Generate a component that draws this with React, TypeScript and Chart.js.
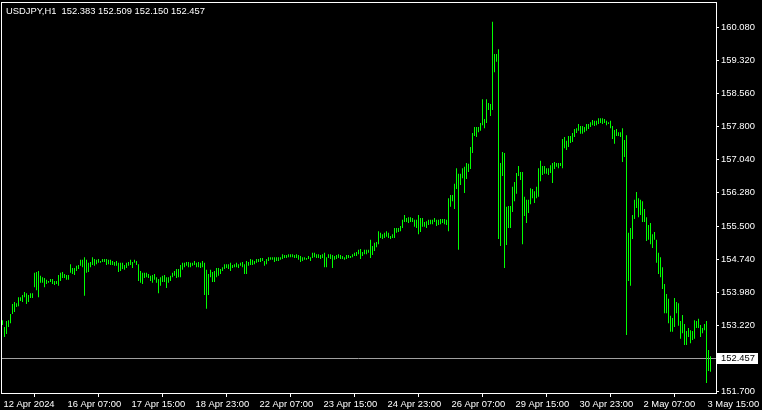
import { useEffect, useRef } from 'react';
import { Chart, registerables } from 'chart.js';

Chart.register(...registerables);

const symbolLabel = 'USDJPY,H1';
// open, high, low, close of the last bar
const lastOHLC = [152.383, 152.509, 152.15, 152.457];

// hourly bars, first bar 12 Apr 2024 23:00
const highs = [
  153.34, 153.18, 153.32, 153.34, 153.48, 153.71, 153.76, 153.73, 153.87, 153.87,
  153.92, 153.99, 153.96, 153.92, 153.96, 153.96, 154.43, 154.45, 154.47, 154.36,
  154.33, 154.31, 154.27, 154.24, 154.29, 154.29, 154.24, 154.24, 154.38, 154.43,
  154.45, 154.40, 154.38, 154.38, 154.63, 154.54, 154.54, 154.59, 154.61, 154.73,
  154.73, 154.79, 154.73, 154.66, 154.68, 154.79, 154.75, 154.73, 154.75, 154.70,
  154.75, 154.75, 154.75, 154.73, 154.73, 154.70, 154.68, 154.70, 154.66, 154.66,
  154.66, 154.61, 154.66, 154.68, 154.73, 154.68, 154.73, 154.70, 154.63, 154.47,
  154.43, 154.43, 154.43, 154.40, 154.36, 154.38, 154.40, 154.33, 154.29, 154.33,
  154.36, 154.38, 154.33, 154.33, 154.36, 154.43, 154.47, 154.52, 154.52, 154.61,
  154.66, 154.66, 154.68, 154.68, 154.66, 154.66, 154.70, 154.66, 154.68, 154.66,
  154.70, 154.66, 154.50, 154.40, 154.50, 154.45, 154.47, 154.54, 154.54, 154.52,
  154.56, 154.63, 154.63, 154.63, 154.66, 154.61, 154.63, 154.66, 154.63, 154.66,
  154.68, 154.63, 154.70, 154.68, 154.75, 154.73, 154.70, 154.75, 154.75, 154.77,
  154.77, 154.70, 154.75, 154.79, 154.79, 154.79, 154.79, 154.79, 154.79, 154.79,
  154.86, 154.84, 154.84, 154.86, 154.86, 154.86, 154.84, 154.86, 154.84, 154.82,
  154.79, 154.79, 154.77, 154.82, 154.79, 154.89, 154.89, 154.86, 154.86, 154.84,
  154.86, 154.89, 154.79, 154.86, 154.86, 154.84, 154.82, 154.84, 154.86, 154.84,
  154.82, 154.79, 154.84, 154.84, 154.82, 154.86, 154.89, 154.91, 154.96, 154.98,
  154.91, 154.96, 154.96, 154.96, 155.19, 155.05, 155.12, 155.14, 155.39, 155.35,
  155.32, 155.35, 155.39, 155.35, 155.28, 155.32, 155.46, 155.46, 155.46, 155.51,
  155.65, 155.76, 155.69, 155.71, 155.71, 155.69, 155.65, 155.65, 155.76, 155.69,
  155.69, 155.60, 155.62, 155.65, 155.65, 155.65, 155.69, 155.65, 155.65, 155.67,
  155.67, 155.67, 155.65, 156.15, 156.22, 156.22, 156.48, 156.84, 156.71, 156.71,
  156.84, 156.87, 156.96, 156.94, 157.33, 157.65, 157.79, 157.79, 157.79, 157.88,
  158.43, 157.97, 158.43, 158.34, 158.32, 160.21, 159.47, 159.47, 159.58, 156.96,
  157.21, 157.19, 155.95, 155.97, 155.97, 156.41, 156.52, 156.73, 156.89, 156.75,
  156.75, 156.18, 156.11, 156.11, 156.38, 156.36, 156.31, 156.41, 156.84, 157.01,
  156.89, 156.89, 156.84, 156.84, 156.91, 156.96, 156.98, 156.96, 156.96, 156.96,
  157.51, 157.56, 157.47, 157.58, 157.58, 157.65, 157.74, 157.76, 157.86, 157.81,
  157.81, 157.79, 157.86, 157.86, 157.90, 157.95, 157.93, 157.93, 157.99, 157.99,
  157.99, 157.97, 157.93, 157.90, 157.93, 157.81, 157.72, 157.74, 157.67, 157.67,
  157.76, 157.49, 157.60, 155.35, 155.46, 155.76, 156.11, 156.29, 156.15, 156.11,
  156.08, 155.90, 155.71, 155.53, 155.58, 155.32, 155.37, 155.19, 154.89, 154.79,
  154.56, 154.17, 153.94, 153.83, 153.44, 153.39, 153.85, 153.76, 153.73, 153.32,
  153.46, 153.25, 153.09, 153.16, 153.11, 153.09, 153.34, 153.32, 153.37, 153.23,
  153.16, 153.25, 153.32, 152.65, 152.509,
];

const lows = [
  153.23, 152.95, 153.02, 153.18, 153.27, 153.48, 153.53, 153.64, 153.66, 153.78,
  153.76, 153.87, 153.71, 153.76, 153.85, 153.85, 154.10, 154.03, 153.87, 154.20,
  154.20, 154.10, 154.17, 154.20, 154.22, 154.17, 154.15, 154.17, 154.13, 154.24,
  154.31, 154.31, 154.27, 154.27, 154.43, 154.40, 154.38, 154.47, 154.52, 154.59,
  154.56, 153.90, 154.43, 154.45, 154.56, 154.61, 154.59, 154.63, 154.66, 154.66,
  154.68, 154.68, 154.61, 154.63, 154.61, 154.61, 154.59, 154.59, 154.45, 154.47,
  154.52, 154.50, 154.54, 154.59, 154.61, 154.54, 154.66, 154.61, 154.24, 154.20,
  154.17, 154.31, 154.33, 154.31, 154.24, 154.20, 154.27, 154.20, 153.96, 154.13,
  154.22, 154.22, 154.08, 154.20, 154.24, 154.33, 154.36, 154.31, 154.33, 154.33,
  154.50, 154.56, 154.59, 154.56, 154.56, 154.59, 154.61, 154.56, 154.56, 154.54,
  154.56, 153.92, 153.60, 153.92, 154.33, 154.22, 154.22, 154.33, 154.36, 154.40,
  154.47, 154.52, 154.54, 154.52, 154.47, 154.54, 154.56, 154.56, 154.54, 154.59,
  154.56, 154.40, 154.40, 154.59, 154.61, 154.61, 154.63, 154.66, 154.68, 154.68,
  154.70, 154.59, 154.63, 154.70, 154.73, 154.73, 154.68, 154.70, 154.70, 154.73,
  154.75, 154.77, 154.77, 154.79, 154.79, 154.79, 154.77, 154.77, 154.73, 154.68,
  154.70, 154.73, 154.73, 154.75, 154.70, 154.77, 154.79, 154.77, 154.77, 154.75,
  154.77, 154.56, 154.56, 154.77, 154.75, 154.54, 154.73, 154.75, 154.77, 154.75,
  154.75, 154.73, 154.75, 154.77, 154.77, 154.79, 154.82, 154.82, 154.86, 154.75,
  154.82, 154.86, 154.86, 154.89, 154.77, 154.84, 154.93, 155.02, 155.09, 155.23,
  155.21, 155.23, 155.26, 155.23, 155.21, 155.23, 155.23, 155.35, 155.37, 155.39,
  155.46, 155.60, 155.60, 155.58, 155.60, 155.60, 155.49, 155.46, 155.32, 155.37,
  155.49, 155.49, 155.46, 155.53, 155.55, 155.55, 155.60, 155.51, 155.53, 155.55,
  155.58, 155.55, 155.53, 155.39, 155.95, 156.08, 155.90, 156.36, 154.96, 156.45,
  156.61, 156.27, 156.59, 156.75, 156.82, 157.19, 157.58, 157.56, 157.67, 157.70,
  157.83, 157.76, 157.88, 158.18, 158.04, 158.18, 159.05, 159.29, 155.21, 155.05,
  156.66, 154.54, 155.07, 155.46, 155.46, 155.83, 156.08, 156.25, 156.66, 156.57,
  155.09, 155.74, 155.58, 155.81, 156.01, 156.15, 156.04, 156.15, 156.18, 156.54,
  156.68, 156.71, 156.71, 156.68, 156.73, 156.50, 156.82, 156.87, 156.84, 156.89,
  156.84, 157.30, 157.26, 157.33, 157.42, 157.44, 157.56, 157.65, 157.70, 157.63,
  157.63, 157.67, 157.70, 157.74, 157.79, 157.83, 157.81, 157.83, 157.86, 157.88,
  157.86, 157.88, 157.83, 157.86, 157.76, 157.51, 157.40, 157.58, 157.58, 157.56,
  156.98, 157.10, 153.00, 154.24, 154.13, 155.21, 155.67, 155.92, 155.71, 155.76,
  155.60, 155.60, 155.16, 155.19, 155.09, 155.00, 155.19, 154.66, 154.40, 154.33,
  154.06, 153.50, 153.50, 153.27, 153.07, 153.07, 153.18, 153.50, 153.21, 152.91,
  153.04, 152.77, 152.77, 152.95, 152.81, 152.88, 152.91, 153.16, 153.16, 152.95,
  153.04, 153.11, 151.89, 152.17, 152.15,
];

// one time label every 32 hourly bars, starting at the first bar
const xTickLabels = [
  '12 Apr 2024', '16 Apr 07:00', '17 Apr 15:00', '18 Apr 23:00', '22 Apr 07:00', '23 Apr 15:00',
  '24 Apr 23:00', '26 Apr 07:00', '29 Apr 15:00', '30 Apr 23:00', '2 May 07:00', '3 May 15:00',
];
const xTickStep = 32;

const yTickValues = [160.08, 159.32, 158.56, 157.8, 157.04, 156.28, 155.5, 154.74, 153.98, 153.22, 151.7];
const yMin = 151.662;
const yMax = 160.667;

const FONT = "'Liberation Sans', Arial, sans-serif";
const FONT_SIZE = 9.4;

export default function App() {
  const ref = useRef<HTMLCanvasElement>(null);

  useEffect(() => {
    document.body.style.margin = '0';
    document.body.style.background = '#000';
    const canvas = ref.current;
    if (!canvas) return;

    const points = highs.map((h, i) => ({ x: i, y: [lows[i], h] }));
    const lastClose = lastOHLC[3];

    const overlay = {
      id: 'mtOverlay',
      beforeDatasetsDraw(chart: any) {
        const { ctx, chartArea: a, scales } = chart;
        const y = Math.round(scales.y.getPixelForValue(lastClose)) + 0.5;
        ctx.save();
        ctx.strokeStyle = '#a0a0a0';
        ctx.lineWidth = 1;
        ctx.beginPath();
        ctx.moveTo(a.left, y);
        ctx.lineTo(a.right, y);
        ctx.stroke();
        ctx.restore();
      },
      afterDraw(chart: any) {
        const { ctx, chartArea: a, scales } = chart;
        ctx.save();
        // frame
        ctx.strokeStyle = '#ffffff';
        ctx.lineWidth = 1;
        ctx.strokeRect(a.left + 0.5, a.top + 0.5, a.right - a.left, a.bottom - a.top);
        // price label box
        const y = Math.round(scales.y.getPixelForValue(lastClose));
        ctx.fillStyle = '#ffffff';
        ctx.fillRect(a.right, y - 5, 42, 11);
        ctx.fillStyle = '#000000';
        ctx.font = `${FONT_SIZE}px ${FONT}`;
        ctx.textBaseline = 'middle';
        ctx.textAlign = 'left';
        ctx.fillText(lastClose.toFixed(3), a.right + 5, y + 0.5);
        // title
        ctx.fillStyle = '#ffffff';
        ctx.textBaseline = 'alphabetic';
        ctx.fillText(`${symbolLabel}  ${lastOHLC.map((v) => v.toFixed(3)).join(' ')}`, 6, 14);
        ctx.restore();
      },
    };

    const chart = new Chart(canvas, {
      type: 'bar',
      data: {
        datasets: [
          {
            data: points as any,
            backgroundColor: '#00ff00',
            borderWidth: 0,
            barThickness: 1,
            inflateAmount: 0,
          } as any,
        ],
      },
      options: {
        animation: false,
        responsive: false,
        devicePixelRatio: 1,
        events: [],
        layout: { padding: { left: 1, top: 2, right: 0, bottom: 0 } },
        plugins: { legend: { display: false }, tooltip: { enabled: false }, title: { display: false } },
        scales: {
          x: {
            type: 'linear',
            min: -0.75,
            max: 356.75,
            offset: false,
            position: 'bottom',
            grid: { display: true, drawOnChartArea: false, drawTicks: true, tickLength: 4, color: '#ffffff' },
            border: { display: false },
            ticks: {
              autoSkip: false,
              maxRotation: 0,
              minRotation: 0,
              align: 'start',
              padding: 2,
              labelOffset: 1,
              color: '#ffffff',
              font: { family: FONT, size: FONT_SIZE },
              callback: (_v: any, i: number) => xTickLabels[i] ?? '',
            },
            afterBuildTicks: (s: any) => {
              s.ticks = xTickLabels.map((_, k) => ({ value: k * xTickStep }));
            },
            afterFit: (s: any) => {
              s.height = 17;
              s.paddingLeft = 0;
              s.paddingRight = 0;
            },
          },
          y: {
            type: 'linear',
            position: 'right',
            min: yMin,
            max: yMax,
            grid: { display: true, drawOnChartArea: false, drawTicks: true, tickLength: 3, color: '#ffffff' },
            border: { display: false },
            ticks: {
              crossAlign: 'near',
              padding: 2,
              color: '#ffffff',
              font: { family: FONT, size: FONT_SIZE },
              callback: (v: any) => Number(v).toFixed(3),
            },
            afterBuildTicks: (s: any) => {
              s.ticks = yTickValues.map((v) => ({ value: v }));
            },
            afterFit: (s: any) => {
              s.width = 46;
              s.paddingTop = 0;
              s.paddingBottom = 0;
            },
          },
        },
      } as any,
      plugins: [overlay],
    });

    return () => chart.destroy();
  }, []);

  return (
    <div style={{ position: 'fixed', left: 0, top: 0, width: 762, height: 410, background: '#000' }}>
      <canvas ref={ref} width={762} height={410} style={{ display: 'block', width: 762, height: 410 }} />
    </div>
  );
}
